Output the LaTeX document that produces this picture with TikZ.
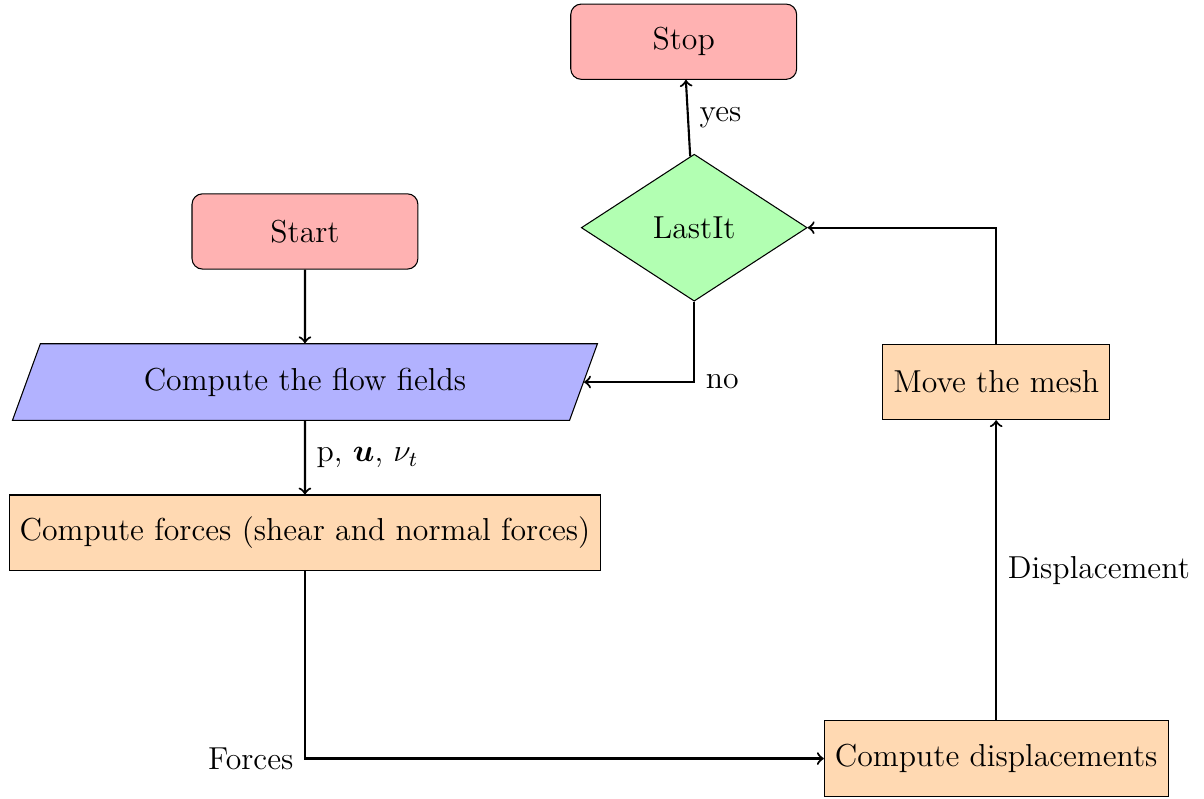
\documentclass[tikz,border=0pt,12pt]{standalone}
\usepackage{amsmath}
\usepackage{xcolor}
\usepackage{tikz}
\usetikzlibrary{shapes.geometric}

\tikzset{
  startstop/.style={rectangle, rounded corners, minimum width=3cm, minimum height=1cm, text centered, draw=black, fill=red!30},
  io/.style={trapezium, trapezium left angle=70, trapezium right angle=110, minimum width=7.78cm, minimum height=1cm, text centered, draw=black, fill=blue!30},
  process/.style={rectangle, minimum width=3cm, minimum height=1cm, text centered, draw=black, fill=orange!30},
  decision/.style={diamond, minimum width=3cm, minimum height=1cm, text centered, draw=black, fill=green!30},
  arrow/.style={thick, ->}
}

\begin{document}
\begin{tikzpicture}[node distance=2cm]
\useasboundingbox (-4.05,-7.537) rectangle (11.94,3.074);

\node (start) [startstop] {Start};
\node (flow) [io, below of=start] {Compute the flow fields};
\node (forces) [process, below of=flow] {Compute forces (shear and normal forces)};
\node (displ) [process, right of=forces, xshift=7.18cm, yshift=-3cm] {Compute displacements};
\node (mesh) [process, above of=displ, yshift=3cm] {Move the mesh};
\node (lastit) [decision, right of=start, xshift=3.17cm, yshift=0.05cm] {LastIt};
\node (stop) [startstop, above of=lastit, xshift=-0.14cm, yshift=0.47cm] {Stop};

\draw [arrow] (start) -- (flow);
\draw [arrow] (flow) -- node[right] {p, $\boldsymbol{u}$, $\nu_t$} (forces);
\draw [arrow] (forces) |- node[left] {Forces} (displ);
\draw [arrow] (displ) -- node[right] {Displacement} (mesh);
\draw [arrow] (mesh) |- (lastit);
\draw [arrow] (lastit) |- node[right] {no} (flow);
\draw [arrow] (lastit) -- node[right] {yes} (stop);

\end{tikzpicture}
\end{document}
